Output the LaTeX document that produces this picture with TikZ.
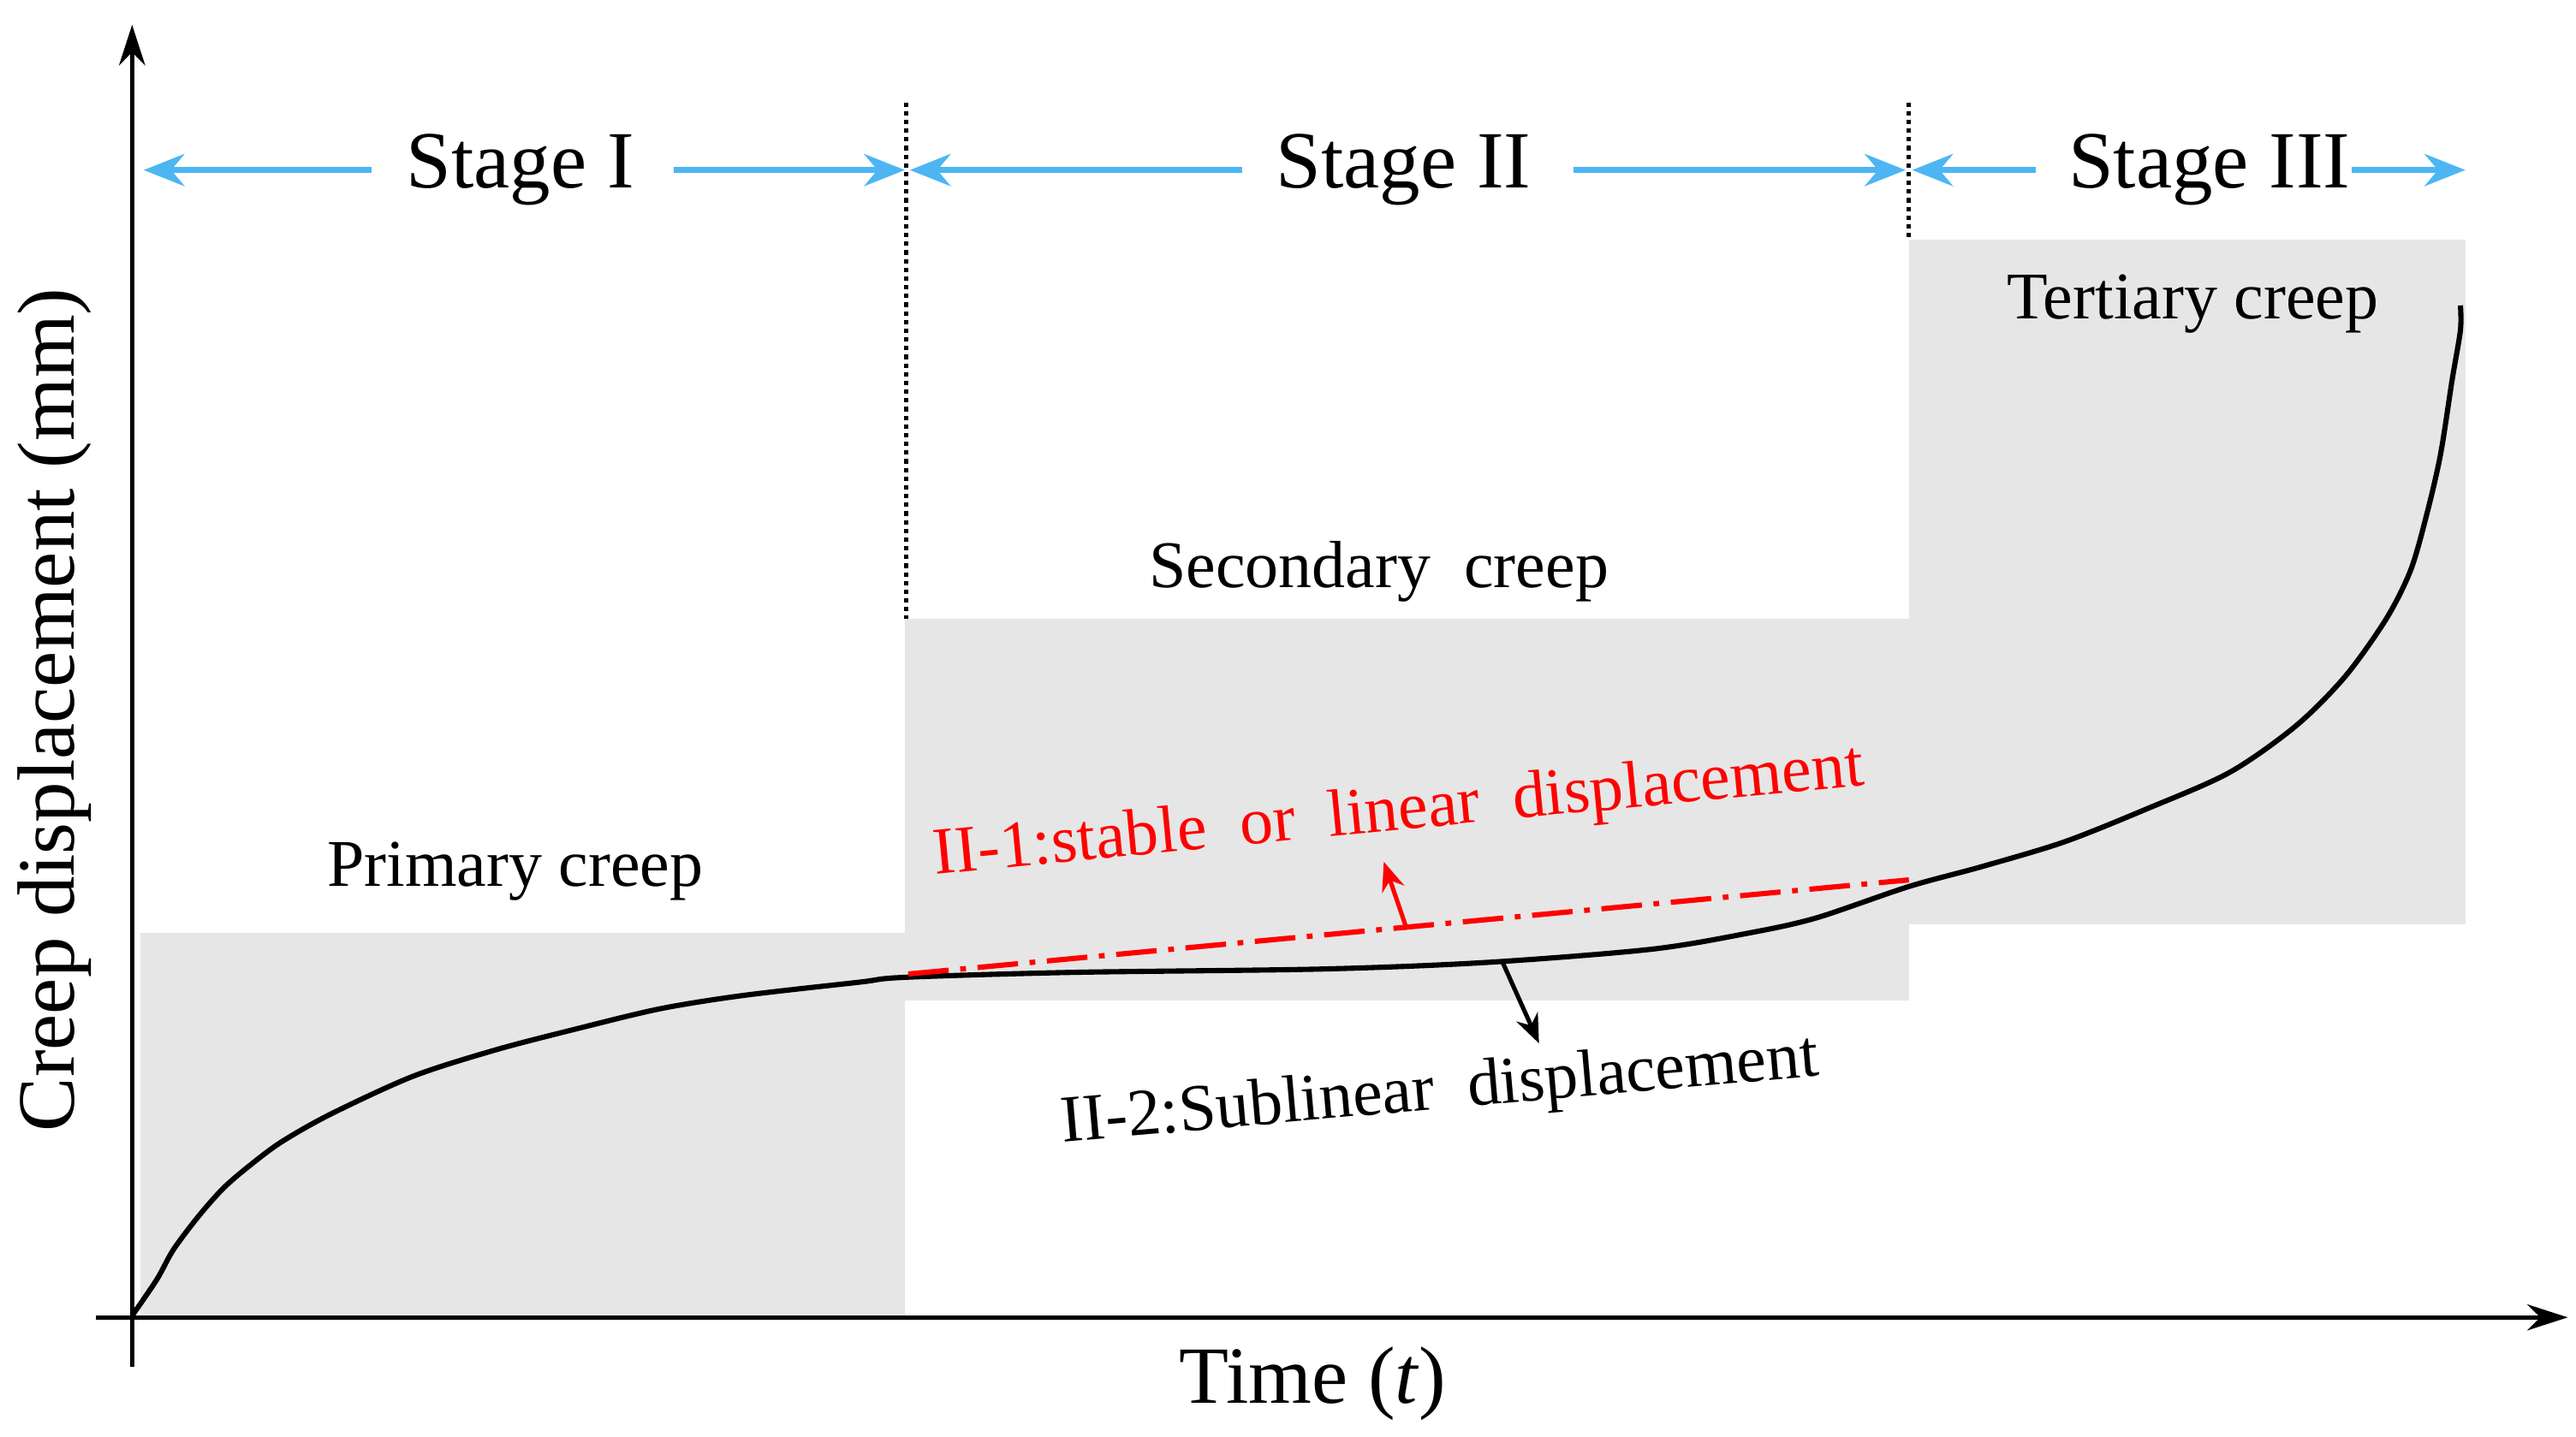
\documentclass[tikz,border=0pt]{standalone}
\usepackage{fontspec}
\setmainfont{Liberation Serif}
\usetikzlibrary{arrows.meta}
\definecolor{stblue}{HTML}{4DB6F2}
\definecolor{regiongray}{HTML}{E6E6E6}
\begin{document}
\begin{tikzpicture}[x=0.02cm,y=-0.02cm,
  stagearrow/.style={stblue,line width=2.2pt,-{Stealth[length=14pt,width=11pt]}},
  big/.style={font=\fontsize{28}{30}\selectfont},
  mid/.style={font=\fontsize{23}{25}\selectfont},
  divider/.style={dash pattern=on 1.5pt off 1.5pt,line width=1.5pt}]
\useasboundingbox (0,0) rectangle (1560,870);
% shaded regions
\fill[regiongray] (85,565) rectangle (548,798);
\fill[regiongray] (548,375) rectangle (1156,606);
\fill[regiongray] (1156,145) rectangle (1493,560);
% dividers
\draw[divider] (549,62) -- (549,375);
\draw[divider] (1156,62) -- (1156,145);
% axes
\draw[line width=1.5pt,-{Stealth[length=14pt,width=9pt]}] (80,828) -- (80,15);
\draw[line width=1.5pt,-{Stealth[length=14pt,width=9pt]}] (58,798) -- (1555,798);
% stage labels
\node[big] (s1) at (315,103) {Stage I};
\node[big] (s2) at (850,103) {Stage II};
\node[big] (s3) at (1338,103) {Stage III};
\coordinate (a1l) at (87,103); \coordinate (a1r) at (548,103);
\coordinate (a2l) at (551,103); \coordinate (a2r) at (1154,103);
\coordinate (a3l) at (1158,103); \coordinate (a3r) at (1493,103);
\draw[stagearrow] (225,103) -- (a1l);
\draw[stagearrow] (408,103) -- (a1r);
\draw[stagearrow] (752,103) -- (a2l);
\draw[stagearrow] (953,103) -- (a2r);
\draw[stagearrow] (1233,103) -- (a3l);
\draw[stagearrow] (1424,103) -- (a3r);
% region labels
\node[mid] (pc) at (312,528) {Primary creep};
\node[mid] (sc) at (835,346) {Secondary\ \ creep};
\node[mid] (tc) at (1328,184) {Tertiary creep};
% curve
\draw[line width=1.8pt,line join=round] plot[smooth,tension=0.5] coordinates {
(80,797) (95,775) (105,757) (120,737) (135,720) (150,707) (170,692) (200,675)
(250,652) (300,636) (350,623) (400,611) (450,603) (520,595) (548,592) (650,589)
(800,587) (900,583) (1000,575) (1060,565) (1100,556) (1156,537) (1200,525)
(1250,510) (1300,490) (1350,468) (1390,440) (1420,410) (1445,375) (1460,345)
(1470,310) (1478,275) (1485,230) (1490,200) (1490,185)};
% red line
\coordinate (rl1) at (550,590); \coordinate (rl2) at (1156,533);
\draw[red,line width=1.8pt,dash pattern=on 14pt off 4pt on 2pt off 4pt] (rl1) -- (rl2);
\node[mid,red,rotate=5.5] (r1) at (847,493) {II-1:stable\ \ or\ \ linear\ \ displacement};
\coordinate (ra) at (852,563);
\draw[red,line width=1.5pt,-{Stealth[length=10pt,width=8pt]}] (ra) -- (838,522);
% black label
\node[mid,rotate=5] (b1) at (872,662) {II-2:Sublinear\ \ displacement};
\coordinate (ba) at (910,583);
\draw[line width=1.5pt,-{Stealth[length=10pt,width=8pt]}] (ba) -- (932,632);
% axis labels
\node[big,rotate=90] (yl) at (33,430) {Creep displacement (mm)};
\node[big] (xl) at (795,838) {Time (\textit{t})};
\end{tikzpicture}
\end{document}
